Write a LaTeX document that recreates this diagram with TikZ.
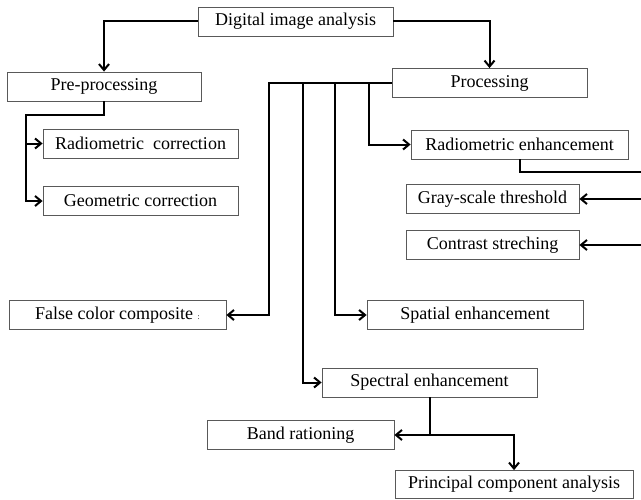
\documentclass[tikz,border=0pt]{standalone}
\usepackage{fontspec}
\setmainfont{Liberation Serif}
\usetikzlibrary{arrows.meta}
\tikzset{
	blk/.style={draw=black!65, line width=0.6pt, fill=white, inner sep=0pt,
		minimum height=21.75pt, font=\fontsize{13.5}{16}\selectfont},
	bus/.style={line width=1.5pt},
	link/.style={bus, -{Straight Barb[length=4.5pt,width=7.5pt]}},
}

\begin{document}
\begin{tikzpicture}[x=0.75pt, y=-0.75pt]
		%%%%% START %%%%%
		\useasboundingbox (0, 0) rectangle (641, 499);
		
		% boxes
		\node[blk, minimum width=146.25pt] (dia) at (295.5, 21.5) {Digital image analysis};
		\node[blk, minimum width=145.5pt] (pre) at (104, 86.5) {Pre-processing};
		\node[blk, minimum width=146.25pt] (proc) at (489.5, 83) {Processing};
		
		\node[blk, minimum width=146.25pt] (radc) at (140.5, 143.5) {Radiometric\ \ correction};
		\node[blk, minimum width=146.25pt] (geoc) at (140.5, 201) {Geometric correction};
		
		\node[blk, minimum width=162.75pt] (rade) at (519.5, 144.5) {Radiometric enhancement};
		\node[blk, minimum width=129.75pt] (gray) at (492.5, 199) {Gray-scale threshold};
		\node[blk, minimum width=129.75pt] (cont) at (492.5, 245) {Contrast streching};
		
		\node[blk, minimum width=162.75pt] (fcc) at (117.5, 315) {False color composite {\fontsize{6}{6}\selectfont :}};
		\node[blk, minimum width=162pt] (spat) at (475, 315) {Spatial enhancement};
		\node[blk, minimum width=161.25pt] (spec) at (429.5, 382.5) {Spectral enhancement};
		\node[blk, minimum width=140.25pt] (band) at (300.5, 435) {Band rationing};
		\node[blk, minimum width=178.5pt, minimum height=21pt] (pca) at (514, 484.5) {Principal component analysis};
		
		% top level
		\draw[link] (dia.west) -| (pre.north);
		\draw[link] (dia.east) -| (proc.north);
		
		% pre-processing branch
		\coordinate (prebus) at (26, 115);
		\draw[link] (pre.south) |- (prebus) |- (geoc.west);
		\draw[link] (prebus |- radc.west) -- (radc.west);
		
		% processing branch
		\coordinate (tapA) at (269, 83);
		\coordinate (tapB) at (303, 83);
		\coordinate (tapC) at (335, 83);
		\coordinate (tapD) at (369, 83);
		\draw[link] (proc.west) -- (tapA) |- (fcc.east);
		\draw[link] (tapB) |- (spec.west);
		\draw[link] (tapC) |- (spat.west);
		\draw[link] (tapD) |- (rade.west);
		
		% radiometric enhancement, bus runs off the right edge
		\coordinate (edge) at (646, 172);
		\draw[bus] (rade.south) |- (edge) -- (edge |- cont.east);
		\draw[link] (edge |- gray.east) -- (gray.east);
		\draw[link] (edge |- cont.east) -- (cont.east);
		
		% spectral enhancement
		\draw[link] (spec.south) |- (band.east);
		\draw[link] (spec.south |- band.east) -| (pca.north);
		
		%%%%% END %%%%%
\end{tikzpicture}
\end{document}
